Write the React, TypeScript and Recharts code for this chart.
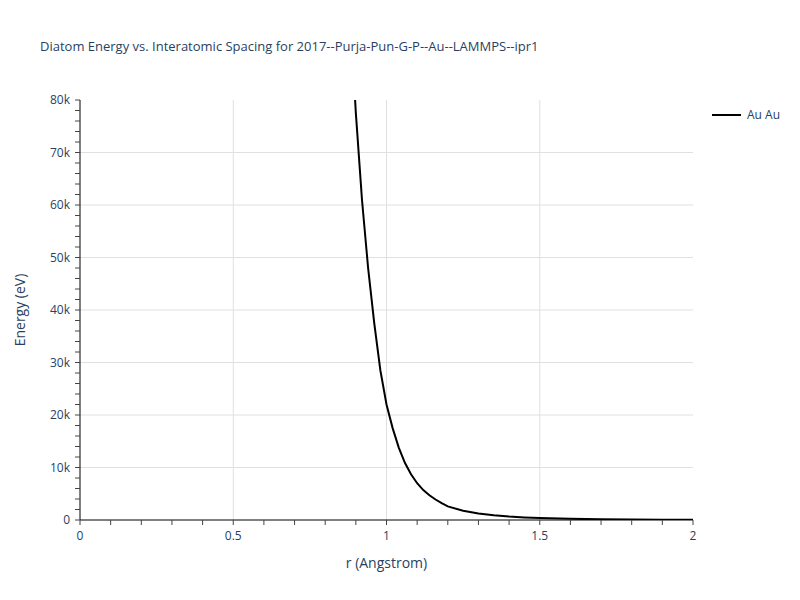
import { LineChart, Line, XAxis, YAxis, ReferenceLine } from 'recharts';

// r (Angstrom) vs energy (eV)
const rValues = [0.88, 0.9, 0.92, 0.94, 0.96, 0.98, 1.0, 1.02, 1.04, 1.06, 1.08, 1.1, 1.12, 1.14, 1.16, 1.18, 1.2, 1.25, 1.3, 1.35, 1.4, 1.45, 1.5, 1.6, 1.7, 1.8, 1.9, 2.0];
const energyValues = [98000, 77500, 61000, 48000, 37500, 28500, 22000, 17500, 13800, 10900, 8700, 7000, 5700, 4700, 3900, 3200, 2600, 1750, 1250, 900, 650, 480, 360, 220, 140, 90, 55, 30];

const xMajorTicks = [0, 0.5, 1, 1.5, 2];
const xMajorLabels = ['0', '0.5', '1', '1.5', '2'];
const yMajorTicks = [0, 10000, 20000, 30000, 40000, 50000, 60000, 70000, 80000];
const yMajorLabels = ['0', '10k', '20k', '30k', '40k', '50k', '60k', '70k', '80k'];
const xGrid = [0.5, 1, 1.5];
const yGrid = [10000, 20000, 30000, 40000, 50000, 60000, 70000];

// minor tick positions (labels only on the majors)
const xMinorTicks = Array.from({ length: 21 }, (_, i) => i / 10);
const yMinorTicks = Array.from({ length: 41 }, (_, i) => i * 2000);

const data = rValues.map((r, i) => ({ r, energy: energyValues[i] }));

const FONT = '"Open Sans", verdana, arial, sans-serif';
const TEXT = '#2a3f5f';

const xFormat = (v: number) => {
    const i = xMajorTicks.findIndex((t) => Math.abs(t - v) < 1e-6);
    return i >= 0 ? xMajorLabels[i] : '';
};
const yFormat = (v: number) => {
    const i = yMajorTicks.indexOf(v);
    return i >= 0 ? yMajorLabels[i] : '';
};

export default function App() {
    return (
        <div style={{ position: 'absolute', left: 0, top: 0, width: 800, height: 600, background: '#fff', fontFamily: FONT }}>
            <div style={{ position: 'absolute', left: 40, top: 37, fontSize: 13, color: TEXT, whiteSpace: 'nowrap' }}>
                Diatom Energy vs. Interatomic Spacing for 2017--Purja-Pun-G-P--Au--LAMMPS--ipr1
            </div>
            <LineChart width={800} height={600} data={data} margin={{ top: 100, right: 107, bottom: 30, left: 0 }}>
                {xGrid.map((v) => (
                    <ReferenceLine key={'x' + v} x={v} stroke="#e0e0e0" strokeWidth={1} />
                ))}
                {yGrid.map((v) => (
                    <ReferenceLine key={'y' + v} y={v} stroke="#e0e0e0" strokeWidth={1} />
                ))}
                <XAxis
                    dataKey="r"
                    type="number"
                    domain={[0, 2]}
                    ticks={xMinorTicks}
                    interval={0}
                    tickFormatter={xFormat}
                    height={50}
                    tickSize={5}
                    tickMargin={6}
                    axisLine={{ stroke: '#000', strokeWidth: 1 }}
                    tickLine={{ stroke: '#444' }}
                    tick={{ fill: TEXT, fontSize: 12, fontFamily: FONT }}
                    label={{ value: 'r (Angstrom)', position: 'insideBottom', offset: 2, fill: TEXT, fontSize: 14, fontFamily: FONT }}
                />
                <YAxis
                    type="number"
                    domain={[0, 80000]}
                    allowDataOverflow
                    ticks={yMinorTicks}
                    interval={0}
                    tickFormatter={yFormat}
                    width={80}
                    tickSize={5}
                    tickMargin={5}
                    axisLine={{ stroke: '#000', strokeWidth: 1 }}
                    tickLine={{ stroke: '#444' }}
                    tick={{ fill: TEXT, fontSize: 12, fontFamily: FONT }}
                    label={{ value: 'Energy (eV)', angle: -90, position: 'insideLeft', offset: 20, fill: TEXT, fontSize: 14, fontFamily: FONT, style: { textAnchor: 'middle' } }}
                />
                <Line
                    type="linear"
                    dataKey="energy"
                    stroke="#000"
                    strokeWidth={2}
                    dot={false}
                    isAnimationActive={false}
                />
            </LineChart>
            <div style={{ position: 'absolute', left: 712, top: 106, display: 'flex', alignItems: 'center', fontSize: 12, color: TEXT }}>
                <span style={{ display: 'inline-block', width: 29, height: 2, background: '#000', marginRight: 6 }} />
                Au Au
            </div>
        </div>
    );
}
